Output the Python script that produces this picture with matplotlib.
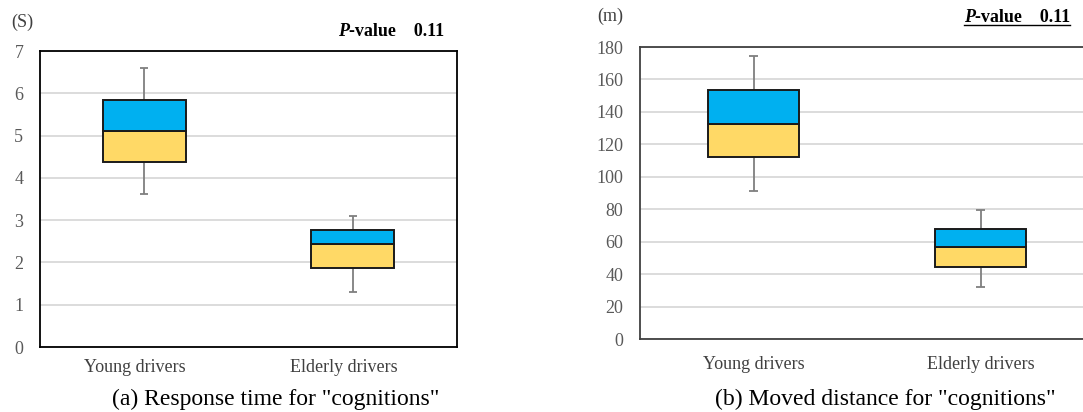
import matplotlib
matplotlib.use("Agg")
import matplotlib.pyplot as plt
import matplotlib.transforms as mtransforms
from matplotlib.lines import Line2D
import numpy as np

plt.rcParams["font.family"] = ["Liberation Serif", "DejaVu Serif"]

groups = ["Young drivers", "Elderly drivers"]

# (a) response time, seconds
time_whislo = [3.63, 1.31]
time_q1 = [4.37, 1.87]
time_med = [5.10, 2.43]
time_q3 = [5.85, 2.77]
time_whishi = [6.60, 3.10]
time_ticks = [0, 1, 2, 3, 4, 5, 6, 7]

# (b) moved distance, metres
dist_whislo = [91.4, 31.9]
dist_q1 = [112.4, 44.2]
dist_med = [132.7, 56.5]
dist_q3 = [153.5, 68.0]
dist_whishi = [174.5, 79.7]
dist_ticks = [0, 20, 40, 60, 80, 100, 120, 140, 160, 180]

p_value = "0.11"

YELLOW = "#FFD966"
BLUE = "#00B0F0"
W, H = 1083, 412

fig = plt.figure(figsize=(W / 100, H / 100), dpi=100)


def px(x, y):
    return x / W, 1 - y / H


def draw_box(ax, lo, q1, med, q3, hi, ticks, spine_color, xpad, xshift=0):
    x = np.arange(len(groups))
    lo, q1, med, q3, hi = map(np.asarray, (lo, q1, med, q3, hi))
    ax.vlines(x, lo, q1, color="#7f7f7f", lw=1.3, zorder=2)
    ax.vlines(x, q3, hi, color="#7f7f7f", lw=1.3, zorder=2)
    ax.hlines(lo, x - 0.018, x + 0.018, color="#7f7f7f", lw=1.3, zorder=2)
    ax.hlines(hi, x - 0.018, x + 0.018, color="#7f7f7f", lw=1.3, zorder=2)
    ax.bar(x, med - q1, bottom=q1, width=0.4, color=YELLOW,
           edgecolor="#1a1a1a", lw=1.4, zorder=3)
    ax.bar(x, q3 - med, bottom=med, width=0.4, color=BLUE,
           edgecolor="#1a1a1a", lw=1.4, zorder=3)
    ax.set_xlim(-0.5, 1.5)
    ax.set_ylim(ticks[0], ticks[-1])
    ax.set_yticks(ticks)
    ax.set_xticks(x)
    ax.set_xticklabels(groups)
    ax.yaxis.grid(True, color="#d9d9d9", lw=1.3)
    ax.set_axisbelow(True)
    ax.tick_params(axis="y", length=0, pad=12, labelsize=13, labelcolor="#595959")
    ax.tick_params(axis="x", length=0, pad=xpad, labelsize=13, labelcolor="#404040")
    if xshift:
        off = mtransforms.ScaledTranslation(xshift / 100, 0, fig.dpi_scale_trans)
        for lab in ax.get_xticklabels():
            lab.set_transform(lab.get_transform() + off)
    for s in ax.spines.values():
        s.set_color(spine_color)
        s.set_linewidth(1.3)


def pvalue_label(x, y):
    t1 = fig.text(x, y, "P", fontsize=13, fontweight="bold", fontstyle="italic",
                  va="center", ha="left")
    t2 = plt.annotate("-value    " + p_value, xy=(1, 0), xycoords=t1,
                      fontsize=13, fontweight="bold", va="bottom", ha="left",
                      annotation_clip=False)
    return t1, t2


ax1 = fig.add_axes([40 / W, 1 - 347 / H, 417 / W, 296 / H])
draw_box(ax1, time_whislo, time_q1, time_med, time_q3, time_whishi,
         time_ticks, "black", 9, xshift=-9)

ax2 = fig.add_axes([640 / W, 1 - 339 / H, 454 / W, 292 / H])
draw_box(ax2, dist_whislo, dist_q1, dist_med, dist_q3, dist_whishi,
         dist_ticks, "#404040", 12)

fig.text(*px(22, 22), "(S)", fontsize=13, color="#404040", ha="center", va="center")
fig.text(*px(610, 16), "(m)", fontsize=13, color="#404040", ha="center", va="center")

pvalue_label(*px(338, 32))
ta, tb = pvalue_label(*px(964, 18))

fig.text(*px(276, 399), '(a) Response time for "cognitions"', fontsize=17,
         ha="center", va="center")
fig.text(*px(885, 399), '(b) Moved distance for "cognitions"', fontsize=17,
         ha="center", va="center")

# underline for the second P-value label
fig.canvas.draw()
r = fig.canvas.get_renderer()
ba = ta.get_window_extent(r)
bb = tb.get_window_extent(r)
y_line = (ba.y0 + 2) / fig.bbox.height
fig.add_artist(Line2D([ba.x0 / fig.bbox.width, bb.x1 / fig.bbox.width],
                      [y_line, y_line], color="black", lw=1.0,
                      transform=fig.transFigure))

fig.savefig("out.png", dpi=100)
